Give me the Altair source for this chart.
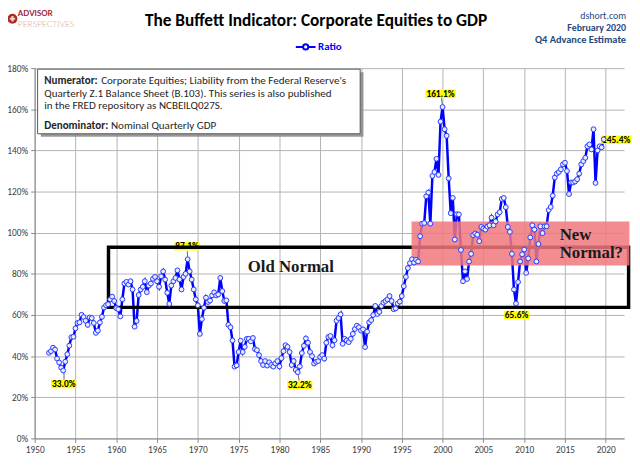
import altair as alt
import pandas as pd

# ---------------- data ----------------
# quarterly Corporate Equities / GDP ratio (%), first value = 1951 Q4
R1950S = [41.6,
          42.4, 44.1, 43.2, 38.8,
          36.9, 34.4, 33.0, 37.3,
          40.9, 45.1, 49.2, 49.4,
          53.5, 56.1, 56.4, 60.1,
          59.0, 57.2, 55.2, 58.8,
          58.5, 56.1, 51.3, 52.4,
          56.4, 59.1, 63.6, 64.7,
          65.2, 67.6, 68.9, 66.8]
R1960S = [63.3, 62.8, 59.3, 67.6,
          75.3, 76.1, 74.8, 76.4,
          72.4, 54.3, 57.1, 69.7,
          72.4, 73.7, 76.4, 71.1,
          74.3, 75.3, 77.6, 78.5,
          76.4, 73.7, 78.8, 81.2,
          77.2, 70.8, 65.4, 74.3,
          76.4, 78.0, 81.7, 77.3,
          72.4, 78.5, 80.0, 87.1,
          81.2, 77.2, 72.4, 67.6]
R1970S = [64.7, 50.8, 58.0, 63.5,
          68.4, 66.3, 67.0, 69.5,
          71.0, 69.5, 70.0, 78.0,
          71.6, 66.8, 67.1, 55.2,
          54.0, 47.6, 34.9, 35.5,
          42.0, 47.5, 42.0, 44.5,
          48.4, 48.4, 47.2, 48.8,
          43.4, 42.9, 40.5, 37.6,
          35.7, 37.6, 35.4, 37.0,
          35.7, 34.9, 36.5, 37.6]
R1980S = [35.0, 39.0, 42.4, 45.3,
          44.5, 42.0, 35.7, 37.6,
          33.3, 32.2, 35.0, 41.5,
          45.0, 48.6, 46.5, 42.0,
          40.0, 36.4, 37.2, 37.6,
          39.6, 40.5, 38.8, 46.5,
          49.3, 49.8, 45.3, 47.7,
          57.2, 58.5, 60.3, 46.0,
          48.4, 47.6, 46.8, 48.4,
          50.8, 53.2, 54.8, 54.0]
R1990S = [52.4, 53.0, 44.4, 51.9,
          56.4, 57.5, 60.0, 64.4,
          60.5, 61.5, 64.4, 66.0,
          66.8, 67.6, 69.2, 66.8,
          62.8, 63.2, 65.6, 66.5,
          69.2, 74.0, 78.5, 82.8,
          85.2, 87.1, 85.5, 86.8,
          86.0, 98.3, 104.4, 104.7,
          117.7, 119.5, 104.4, 127.6,
          129.5, 135.9, 128.1, 154.0]
R2000S = [161.1, 150.3, 147.1, 126.4,
          109.5, 116.9, 96.7, 109.0,
          108.9, 91.6, 76.4, 81.2,
          77.5, 86.0, 89.7, 98.8,
          99.6, 99.0, 95.9, 102.8,
          102.0, 101.5, 103.0, 103.6,
          107.3, 103.6, 105.5, 108.9,
          110.0, 116.4, 116.9, 112.4,
          102.8, 100.4, 89.7, 72.4,
          65.6, 76.0, 86.0, 89.5]
R2010S = [91.8, 80.5, 87.5, 97.7,
          103.6, 101.5, 86.0, 94.5,
          103.1, 99.8, 103.1, 103.1,
          111.0, 112.5, 118.0, 126.8,
          128.7, 129.5, 130.8, 133.2,
          134.0, 130.0, 118.8, 124.4,
          124.4, 124.9, 126.0, 128.7,
          133.2, 134.8, 136.4, 142.0,
          142.9, 140.5, 150.3, 124.2,
          140.0, 142.0, 141.5, 145.4]
RATIO = R1950S + R1960S + R1970S + R1980S + R1990S + R2000S + R2010S
FIRST_QUARTER = 1951.75
DATES = [FIRST_QUARTER + 0.25 * i for i in range(len(RATIO))]
SERIES = "Ratio"

X_TICKS = list(range(1950, 2021, 5))
Y_TICKS = list(range(0, 181, 20))

LABEL_TEXT = ["33.0%", "87.1%", "32.2%", "161.1%", "65.6%", "145.4%"]
LABEL_X = [1953.56, 1968.68, 1982.5, 1999.75, 2009.08, 2021.29]
LABEL_Y = [26.4, 93.4, 26.0, 167.5, 60.0, 145.2]

LEADER_X = [1953.6, 1968.7, 1982.42, 1999.85]
LEADER_Y = [28.6, 91.0, 28.2, 165.3]
LEADER_X2 = [1953.6, 1968.75, 1982.28, 1999.98]
LEADER_Y2 = [31.7, 88.4, 31.2, 162.3]

OLD_BOX = {"x0": 1959.05, "x1": 2022.8, "y0": 63.7, "y1": 92.9}
NEW_BOX = {"x0": 1996.2, "x1": 2022.9, "y0": 84.1, "y1": 105.5}
NOTE_BOX = {"x0": 1950.36, "x1": 1989.9, "y0": 148.1, "y1": 179.5}
NOTE_BOLD_X = [1951.17, 1951.17]
NOTE_BOLD_Y = [173.9, 151.8]
NOTE_BOLD = ["Numerator:", "Denominator:"]
NOTE_X = [1958.15, 1951.17, 1951.17, 1959.35]
NOTE_Y = [173.9, 167.6, 161.4, 151.8]
NOTE_TEXT = ["Corporate Equities; Liability from the Federal Reserve's",
             "Quarterly Z.1 Balance Sheet (B.103). This series is also published",
             "in the FRED repository  as NCBEILQ027S.",
             "Nominal Quarterly GDP"]

OLD_TEXT = {"x": 1981.4, "y": 83.5, "t": "Old Normal"}
NEW_TEXT_X = 2014.35
NEW_TEXT_Y = [98.8, 90.2]
NEW_TEXT = ["New", "Normal?"]

# ---------------- styles ----------------
FONT = "Carlito, Calibri, Lato, sans-serif"
SERIF = "Liberation Serif, Times New Roman, serif"
BLUE = "#0000FF"
HEAD = "#1F497D"

xscale = alt.Scale(domain=[1950, 2022.25], nice=False, zero=False)
yscale = alt.Scale(domain=[0, 180], nice=False, zero=True)

x_axis = alt.Axis(values=X_TICKS, format="d", title=None, grid=True,
                  gridColor="#B4B4B4", gridWidth=1, domainColor="#868686",
                  tickColor="#868686", tickSize=4, labelFont=FONT, labelFontSize=9.5,
                  labelColor="#404040", labelPadding=2, labelFlush=False,
                  labelOverlap=False)
y_axis = alt.Axis(values=Y_TICKS, labelExpr="datum.value + '%'", title=None,
                  grid=True, gridColor="#B4B4B4", gridWidth=1,
                  domainColor="#868686", tickColor="#868686", tickSize=4,
                  labelFont=FONT, labelFontSize=9.5, labelColor="#404040",
                  labelPadding=3, labelOverlap=False)


def X(f):
    return alt.X(f, type="quantitative", scale=xscale, axis=x_axis)


def Y(f):
    return alt.Y(f, type="quantitative", scale=yscale, axis=y_axis)


line_df = pd.DataFrame({"date": DATES, "ratio": RATIO, "series": SERIES})
lab_df = pd.DataFrame({"x": LABEL_X, "y": LABEL_Y, "t": LABEL_TEXT})
lab_df["bg"] = ["M-{w},-0.85H{w}V0.85H-{w}Z".format(w=round(len(t) * 0.49 + 0.1, 2))
                for t in LABEL_TEXT]
lead_df = pd.DataFrame({"x": LEADER_X, "y": LEADER_Y, "x2": LEADER_X2, "y2": LEADER_Y2})
old_df = pd.DataFrame([OLD_BOX])
new_df = pd.DataFrame([NEW_BOX])
note_df = pd.DataFrame([NOTE_BOX])
shadow_df = pd.DataFrame([{"x0": NOTE_BOX["x0"] + 0.4, "x1": NOTE_BOX["x1"] + 0.4,
                           "y0": NOTE_BOX["y0"] - 1.5, "y1": NOTE_BOX["y1"] - 1.5}])
note_b_df = pd.DataFrame({"x": NOTE_BOLD_X, "y": NOTE_BOLD_Y, "t": NOTE_BOLD})
note_r_df = pd.DataFrame({"x": NOTE_X, "y": NOTE_Y, "t": NOTE_TEXT})
oldt_df = pd.DataFrame([OLD_TEXT])
newt_df = pd.DataFrame({"x": [NEW_TEXT_X] * 2, "y": NEW_TEXT_Y, "t": NEW_TEXT})

LEGEND_PATH = ("M-1.6,0L-0.42,0M0.42,0L1.6,0"
               "M0.42,0A0.42,0.42,0,1,1,-0.42,0A0.42,0.42,0,1,1,0.42,0Z")

# ---------------- layers ----------------
lab_bg = alt.Chart(lab_df).mark_point(size=100, filled=True, fill="#FFFF00",
                                      opacity=1, strokeWidth=0).encode(
    x=X("x"), y=Y("y"), shape=alt.Shape("bg:N", scale=None, legend=None))
lab_txt = alt.Chart(lab_df).mark_text(font=FONT, fontSize=9.5, fontWeight="bold",
                                      color="#000000", baseline="middle",
                                      align="center").encode(
    x=X("x"), y=Y("y"), text="t:N")
leaders = alt.Chart(lead_df).mark_rule(color="#404040", strokeWidth=0.8).encode(
    x=X("x"), y=Y("y"), x2="x2:Q", y2="y2:Q")

old_box = alt.Chart(old_df).mark_rect(fillOpacity=0, stroke="#000000",
                                      strokeWidth=3.5).encode(
    x=X("x0"), x2="x1:Q", y=Y("y0"), y2="y1:Q")
new_box = alt.Chart(new_df).mark_rect(fill="#F0787D", opacity=0.85).encode(
    x=X("x0"), x2="x1:Q", y=Y("y0"), y2="y1:Q")

line = alt.Chart(line_df).mark_line(strokeWidth=2.5).encode(
    x=X("date"), y=Y("ratio"),
    color=alt.Color("series:N", scale=alt.Scale(domain=[SERIES], range=[BLUE]),
                    legend=alt.Legend(title=None, orient="none", legendX=267,
                                      legendY=-29, direction="horizontal",
                                      symbolType=LEGEND_PATH, symbolSize=156,
                                      symbolStrokeWidth=2, symbolStrokeColor=BLUE,
                                      labelFont=FONT, labelFontSize=11,
                                      labelFontWeight="bold", labelColor=BLUE,
                                      labelOffset=5, padding=0)))
pts = alt.Chart(line_df).mark_point(shape="circle", size=24, fill="#E6ECFF",
                                    stroke="#2838FF", strokeWidth=1,
                                    opacity=1).encode(x=X("date"), y=Y("ratio"))

old_t = alt.Chart(oldt_df).mark_text(font=SERIF, fontSize=17, fontWeight="bold",
                                     color="#1A1A1A", align="center",
                                     baseline="middle").encode(
    x=X("x"), y=Y("y"), text="t:N")
new_t = alt.Chart(newt_df).mark_text(font=SERIF, fontSize=17, fontWeight="bold",
                                     color="#1A1A1A", align="left",
                                     baseline="middle").encode(
    x=X("x"), y=Y("y"), text="t:N")

shadow = alt.Chart(shadow_df).mark_rect(fill="#8C8C8C", opacity=0.9).encode(
    x=X("x0"), x2="x1:Q", y=Y("y0"), y2="y1:Q")
note = alt.Chart(note_df).mark_rect(fill="#FFFFFF", stroke="#595959",
                                    strokeWidth=1).encode(
    x=X("x0"), x2="x1:Q", y=Y("y0"), y2="y1:Q")
note_b = alt.Chart(note_b_df).mark_text(font=FONT, fontSize=11.2,
                                        fontWeight="bold", color="#262626",
                                        align="left", baseline="middle").encode(
    x=X("x"), y=Y("y"), text="t:N")
note_r = alt.Chart(note_r_df).mark_text(font=FONT, fontSize=11.2, color="#262626",
                                        align="left", baseline="middle").encode(
    x=X("x"), y=Y("y"), text="t:N")


def head(text, px, py, size, weight="normal", color=HEAD, align="right",
         font=FONT):
    return alt.Chart(pd.DataFrame({"t": [text]})).mark_text(
        font=font, fontSize=size, fontWeight=weight, color=color, align=align,
        baseline="middle").encode(x=alt.value(px), y=alt.value(py), text="t:N")


title = head("The Buffett Indicator: Corporate Equities to GDP", 285, -48, 17.5,
             "bold", "#000000", "center")
h1 = head("dshort.com", 599, -53, 10)
h2 = head("February 2020", 599, -40.5, 10, "bold")
h3 = head("Q4 Advance Estimate", 599, -28, 10.5, "bold")
logo_a = head("ADVISOR", -17, -54.5, 8, "bold", "#9E1B32", "left", "Lato")
logo_p = head("PERSPECTIVES", -17, -44.5, 8.5, 300, "#D6A77A", "left", "Lato")
logo_c = alt.Chart(pd.DataFrame({"t": ["o"]})).mark_point(
    shape="circle", size=100, filled=True, fill="#A52A2A", opacity=1).encode(
    x=alt.value(-22.5), y=alt.value(-50))
logo_x = alt.Chart(pd.DataFrame({"t": ["x"]})).mark_point(
    shape="cross", size=30, filled=True, fill="#F2D5B8", opacity=1).encode(
    x=alt.value(-22.5), y=alt.value(-50))

chart = alt.layer(
    line, lab_bg, lab_txt, leaders, old_box, new_box, pts, old_t, new_t,
    shadow, note, note_b, note_r, title, h1, h2, h3, logo_c, logo_x,
    logo_a, logo_p
).properties(
    width=597, height=375,
    autosize=alt.AutoSizeParams(type="none"),
    padding={"left": 27, "top": 58, "right": 8, "bottom": 22},
    background="#FFFFFF",
).configure_view(stroke=None)

chart.save("out.html", embed_options={"renderer": "svg", "actions": False})
